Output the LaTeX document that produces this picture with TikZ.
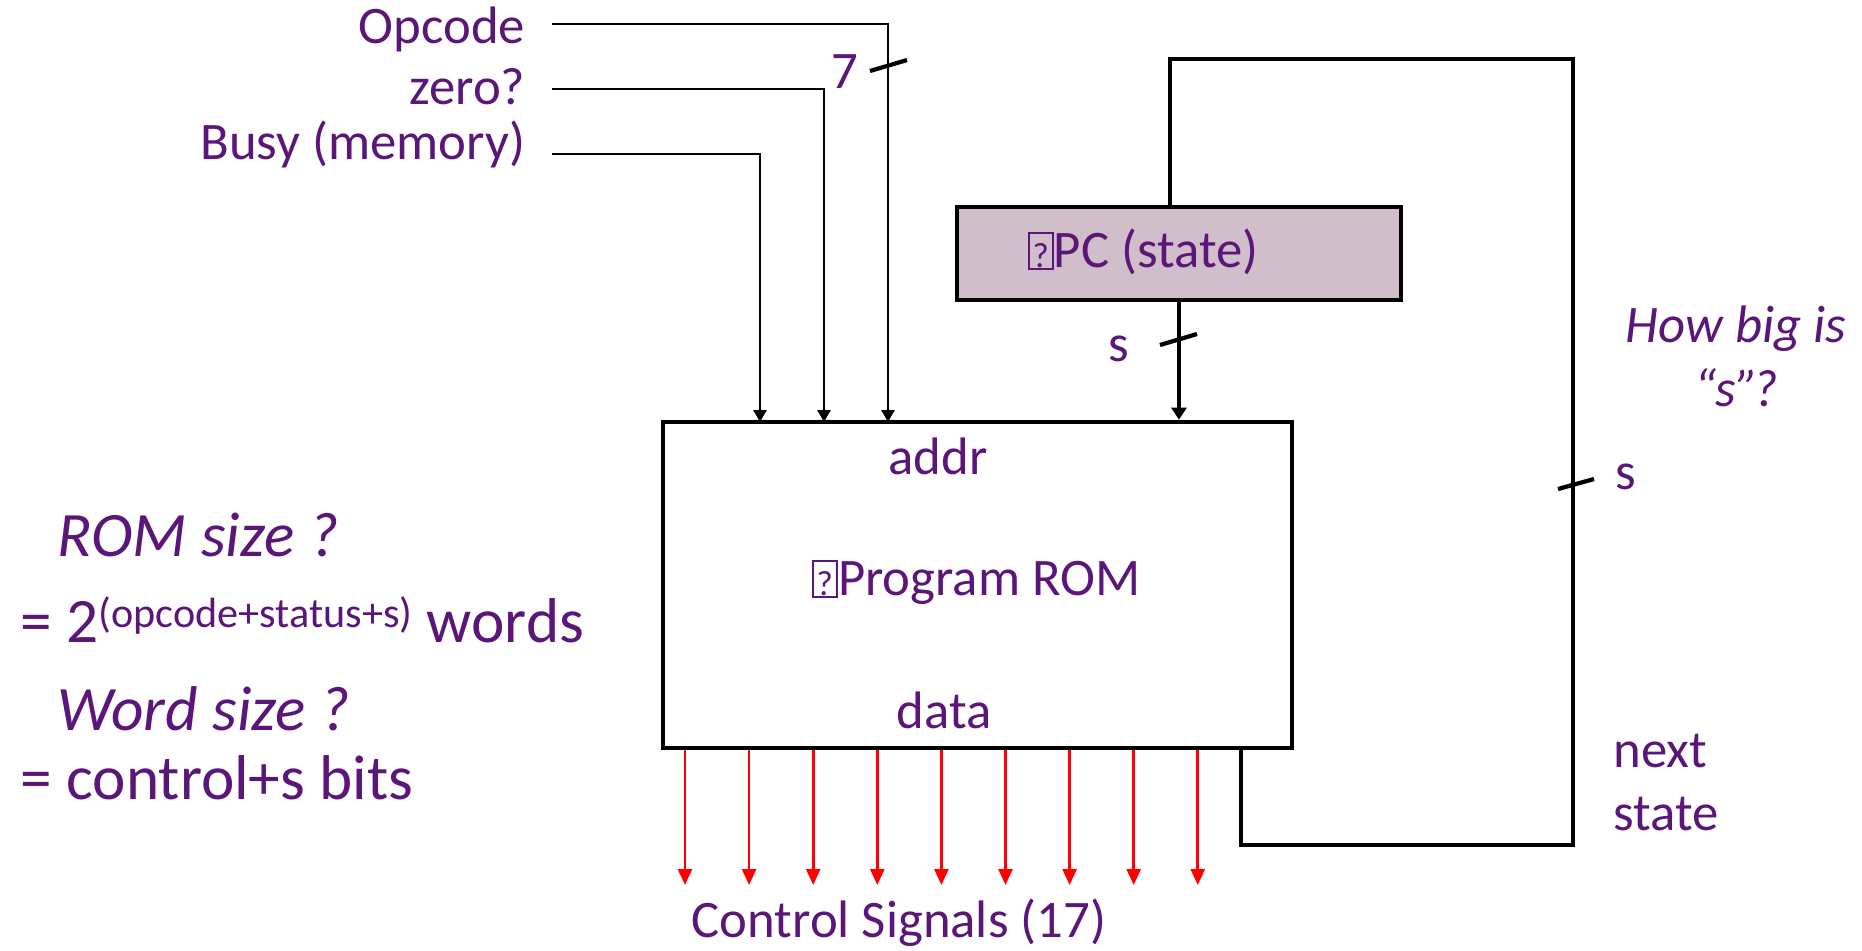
\documentclass[tikz,border=0pt]{standalone}
\usepackage{fontspec}
\setmainfont{Carlito}
\usetikzlibrary{arrows.meta}

\definecolor{txtpurple}{RGB}{90,22,120}
\definecolor{pcfill}{RGB}{208,190,202}
\newcommand{\qbox}{{\fboxsep=0pt\fboxrule=0.6pt\fbox{\rule{0pt}{0.64em}\makebox[0.42em]{\fontsize{10}{10}\selectfont ?}}}}

\tikzset{
  lbl/.style={text=txtpurple, font=\fontsize{15}{18}\selectfont, inner sep=0pt},
  inlbl/.style={lbl, inner xsep=0.26cm, anchor=east},
  biglbl/.style={text=txtpurple, font=\fontsize{18}{22}\selectfont, inner sep=0pt, anchor=base west},
  bigit/.style={biglbl, font=\fontsize{18}{22}\selectfont\itshape},
  sig/.style={-{Triangle[length=0.12cm,width=0.13cm]}, line width=0.6pt},
  ctl/.style={-{Triangle[length=0.16cm,width=0.14cm]}, line width=0.75pt, red},
  bus/.style={line width=1.2pt},
  slash/.style={line width=1.2pt},
  block/.style={draw, line width=1.3pt, inner sep=0pt}
}

\begin{document}
\begin{tikzpicture}[x=0.01cm, y=-0.01cm]
  \useasboundingbox (0,0) rectangle (1862,950);

  % ROM and state register
  \node[block, minimum width=6.29cm, minimum height=3.26cm] (rom) at (977.5,585) {};
  \node[block, fill=pcfill, minimum width=4.44cm, minimum height=0.93cm] (pc) at (1179,253.5) {};
  \node[lbl] (pctext) at (1143,252) {\qbox PC (state)};
  \node[lbl] (addr) at (938,456) {addr};
  \node[lbl] (romtext) at (976,582) {\qbox Program ROM};
  \node[lbl] (data) at (944,710) {data};

  % inputs
  \node[inlbl] (opcode) at (552,29) {Opcode};
  \node[inlbl] (zero) at (552,87) {zero?};
  \node[inlbl] (busy) at (552,144) {Busy (memory)};
  \coordinate (oprow) at (552,24);
  \coordinate (zerorow) at (552,89);
  \coordinate (busyrow) at (552,154);
  \coordinate (inop) at (888,422);
  \coordinate (inzero) at (824,422);
  \coordinate (inbusy) at (760,422);
  \draw[sig] (opcode.east |- oprow) -| (inop);
  \draw[sig] (zero.east |- zerorow) -| (inzero);
  \draw[sig] (busy.east |- busyrow) -| (inbusy);
  \draw[slash] (870,71) -- (907,60);
  \node[lbl] (width7) at (845,72) {7};

  % state into ROM
  \draw[bus, -{Triangle[length=0.12cm,width=0.15cm]}] (pc.south) -- (rom.north -| pc.south);
  \draw[slash] (1160,345) -- (1197,334);
  \node[lbl] (spc) at (1119,349) {s};

  % next state loop
  \coordinate (nsbot) at (1241,845);
  \coordinate (nstop) at (1573,59);
  \coordinate (pcin) at (1170,59);
  \draw[bus] (rom.south -| nsbot) -- (nsbot) -| (nstop) -- (pcin) -- (pc.north -| pcin);
  \draw[slash] (1558,489) -- (1594,479);
  \node[lbl] (sloop) at (1626,477) {s};
  \node[lbl, anchor=base west] (next) at (1613,767) {next};
  \node[lbl, anchor=base west] (state) at (1613,830) {state};
  \node[lbl, font=\fontsize{15}{18}\selectfont\itshape, anchor=base] (howbig) at (1736,342) {How big is};
  \node[lbl, font=\fontsize{15}{18}\selectfont\itshape, anchor=base] (howbigs) at (1736,406) {“s”\kern-1.5pt?};

  % control outputs
  \foreach \i in {0,...,8} {
    \coordinate (cs\i) at ({685+64.1*\i},885);
    \draw[ctl] (rom.south -| cs\i) -- (cs\i);
  }
  \node[lbl] (ctrl) at (899,923) {Control Signals (17)};

  % sizes
  \node[bigit] (romsize) at (57,556) {ROM size ?};
  \node[biglbl] (words) at (20,642) {= 2\raisebox{4pt}{\fontsize{12}{14}\selectfont (opcode+status+s)} words};
  \node[bigit] (wordsize) at (57,730) {Word size ?};
  \node[biglbl] (bits) at (20,799) {= control+s bits};
\end{tikzpicture}
\end{document}
